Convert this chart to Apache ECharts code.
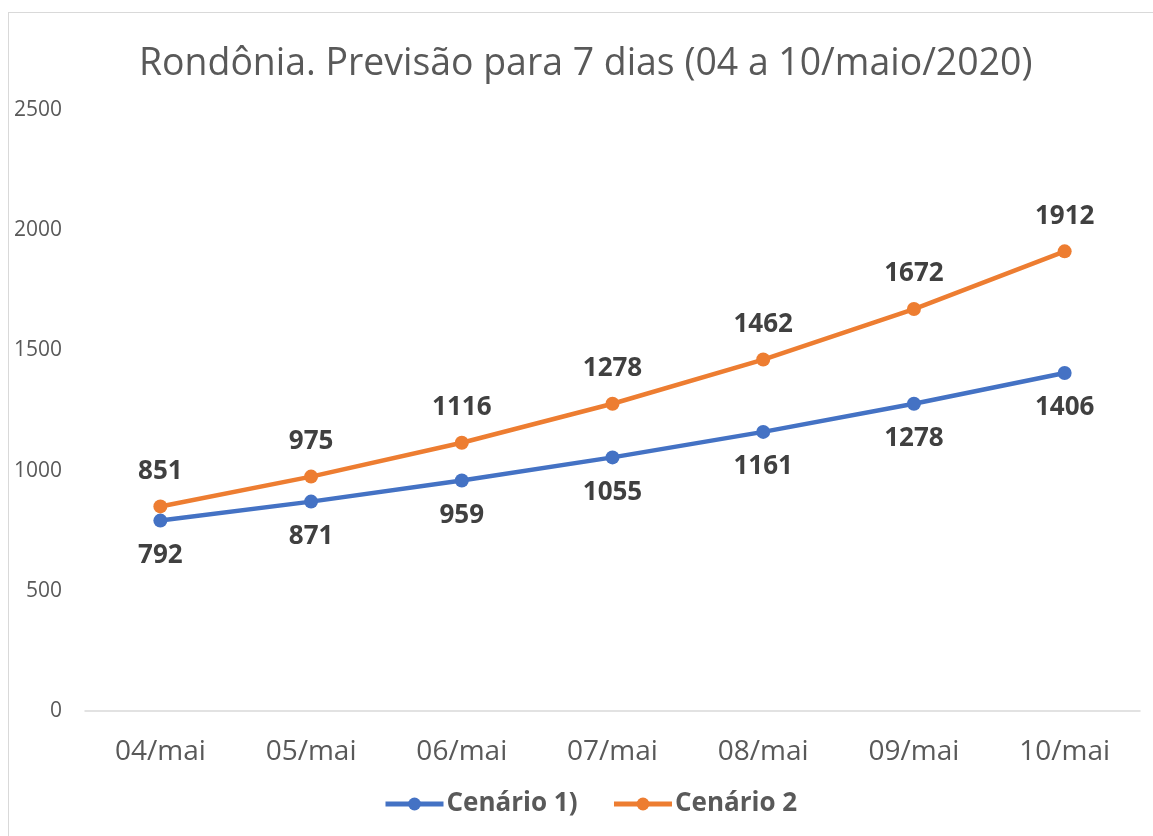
<!DOCTYPE html>
<html><head><meta charset="utf-8">
<script src="https://cdn.jsdelivr.net/npm/echarts@6/dist/echarts.min.js"></script>
<style>
html,body{margin:0;padding:0;background:#fff;}
#frame{position:absolute;left:8px;top:12px;width:1150px;height:830px;border:1px solid #d9d9d9;box-sizing:border-box;}
#c{position:absolute;left:0;top:0;width:1153px;height:836px;}
</style></head><body>
<div id="frame"></div>
<div id="c"></div>
<script>
const categories = ['04/mai','05/mai','06/mai','07/mai','08/mai','09/mai','10/mai'];
const cenario1 = [792, 871, 959, 1055, 1161, 1278, 1406];
const cenario2 = [851, 975, 1116, 1278, 1462, 1672, 1912];
const seriesNames = ['Cenário 1)', 'Cenário 2'];
const titleText = 'Rondônia. Previsão para 7 dias (04 a 10/maio/2020)';

const font = '"Open Sans", "Noto Sans", sans-serif';
const chart = echarts.init(document.getElementById('c'));
const labelStyle = {show:true, fontFamily:font, fontWeight:'bold', fontSize:26, color:'#404040', distance:15};
chart.setOption({
  animation:false,
  title:{text:titleText, left:134, top:41, textStyle:{fontFamily:font, fontWeight:'normal', fontSize:37.4, color:'#595959'}},
  legend:{bottom:14, left:378, itemWidth:58, itemHeight:16, itemGap:34,
    lineStyle:{width:5},
    textStyle:{fontFamily:font, fontWeight:'bold', fontSize:26, color:'#595959', padding:[0,0,0,-2]},
    data:seriesNames},
  grid:{left:85, right:13, top:110, bottom:125},
  xAxis:{type:'category', data:categories, boundaryGap:true,
    axisLine:{lineStyle:{color:'#d9d9d9', width:1.5}}, axisTick:{show:false},
    axisLabel:{fontFamily:font, fontSize:28, color:'#595959', margin:27}},
  yAxis:{type:'value', min:0, max:2500, interval:500,
    axisLine:{show:false}, axisTick:{show:false}, splitLine:{show:false},
    axisLabel:{fontFamily:font, fontSize:21, color:'#595959', margin:23, formatter:v=>String(v)}},
  series:[
    {name:seriesNames[0], type:'line', data:cenario1, color:'#4472C4', symbol:'circle', symbolSize:14,
     lineStyle:{width:4.5}, label:Object.assign({position:'bottom'}, labelStyle)},
    {name:seriesNames[1], type:'line', data:cenario2, color:'#ED7D31', symbol:'circle', symbolSize:14,
     lineStyle:{width:4.5}, label:Object.assign({position:'top'}, labelStyle)}
  ]
});
</script></body></html>
